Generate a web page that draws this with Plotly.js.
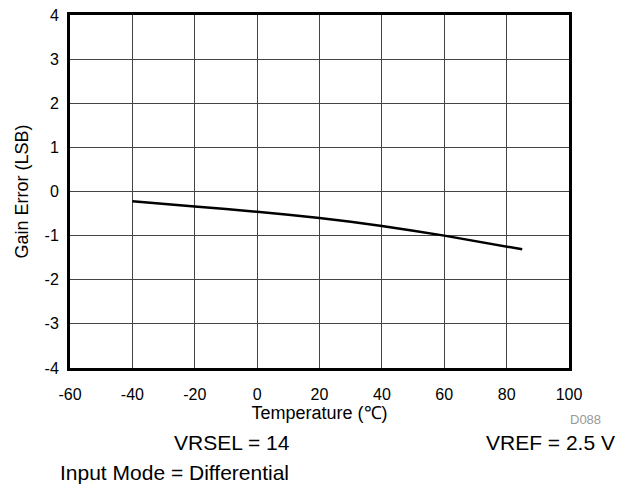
<!DOCTYPE html>
<html><head><meta charset="utf-8">
<script src="https://cdn.plot.ly/plotly-3.0.1.min.js"></script>
<style>html,body{margin:0;padding:0;background:#fff}</style>
</head><body>
<div id="chart" style="width:631px;height:486px"></div>
<script>
const temperature = [-40, -20, 0, 20, 40, 60, 85];
const gainError = [-0.22, -0.34, -0.46, -0.60, -0.78, -1.0, -1.31];
const xTicks = [-60, -40, -20, 0, 20, 40, 60, 80, 100];
const yTicks = [-4, -3, -2, -1, 0, 1, 2, 3, 4];

const fam = 'Liberation Sans, Arial, sans-serif';
const f = (size, color) => ({family: fam, size: size, color: color || '#000'});
Plotly.newPlot('chart', [{
  x: temperature, y: gainError, type: 'scatter', mode: 'lines',
  line: {color: '#000', width: 2.5, shape: 'spline', smoothing: 0.6}
}], {
  width: 631, height: 486,
  margin: {l: 70, r: 62, t: 15, b: 118},
  paper_bgcolor: '#fff', plot_bgcolor: '#fff',
  showlegend: false,
  font: f(16),
  xaxis: {
    range: [-60, 100], tickvals: xTicks, ticktext: xTicks.map(String),
    showgrid: true, gridcolor: '#444', gridwidth: 1, zeroline: false,
    showline: true, linecolor: '#000', linewidth: 3, mirror: true,
    ticks: 'outside', ticklen: 10, tickcolor: 'rgba(0,0,0,0)', tickfont: f(16),
    automargin: false,
    title: {text: 'Temperature (℃)', font: f(18), standoff: 1}
  },
  yaxis: {
    range: [-4, 4], tickvals: yTicks, ticktext: yTicks.map(String),
    showgrid: true, gridcolor: '#444', gridwidth: 1, zeroline: false,
    showline: true, linecolor: '#000', linewidth: 3, mirror: true,
    ticks: 'outside', ticklen: 5, tickcolor: 'rgba(0,0,0,0)', tickfont: f(16),
    automargin: false,
    title: {text: 'Gain Error (LSB)', font: f(18), standoff: 12}
  },
  annotations: [
    {text: 'D088', xref: 'paper', yref: 'paper', x: 1.068, y: -0.147, xanchor: 'right', yanchor: 'middle', showarrow: false, font: f(13, '#999')},
    {text: 'VRSEL = 14', xref: 'paper', yref: 'paper', x: 0.325, y: -0.212, xanchor: 'center', yanchor: 'middle', showarrow: false, font: f(21)},
    {text: 'VREF = 2.5 V', xref: 'paper', yref: 'paper', x: 1.096, y: -0.212, xanchor: 'right', yanchor: 'middle', showarrow: false, font: f(21)},
    {text: 'Input Mode = Differential', xref: 'paper', yref: 'paper', x: -0.024, y: -0.297, xanchor: 'left', yanchor: 'middle', showarrow: false, font: f(21)}
  ]
}, {displayModeBar: false, staticPlot: true});
</script>
</body></html>
